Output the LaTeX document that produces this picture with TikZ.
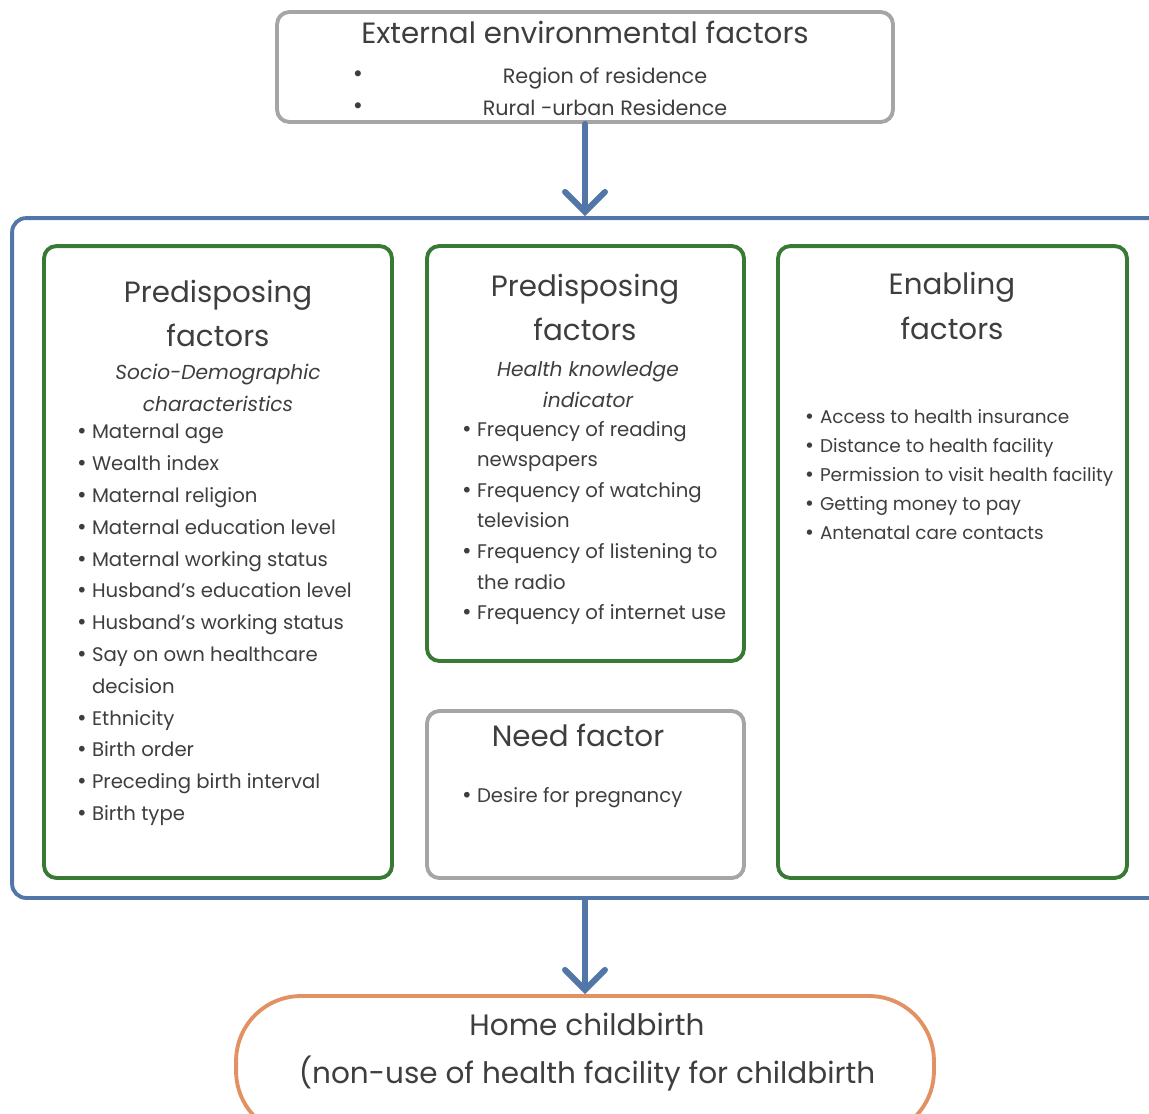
\documentclass[tikz,border=0pt]{standalone}
\usepackage{fontspec}
\setmainfont{Poppins}
\newfontfamily\symfont{DejaVu Sans}
\usetikzlibrary{positioning,arrows.meta,calc}
\usepackage{xcolor}
\definecolor{frameblue}{RGB}{82,118,168}
\definecolor{boxgreen}{RGB}{56,122,52}
\definecolor{boxgray}{RGB}{165,165,165}
\definecolor{outorange}{RGB}{226,146,98}
\definecolor{txtgray}{RGB}{62,62,62}
\newcommand{\bul}{\makebox[9pt][l]{{\symfont •}}}
\newcommand{\cont}{\hspace*{9pt}}

\begin{document}
\begin{tikzpicture}[x=0.02cm, y=-0.02cm,
    box/.style={draw, line width=2.2pt, rounded corners=7pt, inner sep=0pt},
    greenbox/.style={box, draw=boxgreen},
    graybox/.style={box, draw=boxgray},
    head/.style={text=txtgray, align=center, font=\fontsize{16.7}{25.5}\selectfont},
    sub/.style={text=txtgray, align=center, font=\fontsize{11.5}{18}\selectfont\itshape},
    items/.style={text=txtgray, align=left, anchor=west, font=\fontsize{11.2}{#1}\selectfont},
    flow/.style={-{Straight Barb[length=4mm, width=8mm, line cap=round]}, line width=3.4pt,
                 draw=frameblue, line cap=round}
]
    \useasboundingbox (0,0) rectangle (1149,1113);

    % Outer frame and the boxes inside it
    \node[box, draw=frameblue, minimum width=23.26cm, minimum height=13.6cm,
          rounded corners=8pt] (frame) at (593.5,558) {};
    \node[graybox, minimum width=12.32cm, minimum height=2.2cm] (ext) at (585,67) {};
    \node[greenbox, minimum width=6.96cm, minimum height=12.64cm] (socio) at (218,562) {};
    \node[greenbox, minimum width=6.34cm, minimum height=8.3cm] (know) at (585.5,453.5) {};
    \node[graybox, minimum width=6.34cm, minimum height=3.34cm] (need) at (585.5,794.5) {};
    \node[greenbox, minimum width=6.98cm, minimum height=12.64cm] (enab) at (952.5,562) {};
    \node[box, draw=outorange, minimum width=13.96cm, minimum height=2.8cm,
          rounded corners=1.3cm] (outc) at (585,1066) {};

    % External factors
    \node[head] (exthead) at (585,32) {External environmental factors};
    \node[text=txtgray, align=center, font=\fontsize{11.8}{18.1}\selectfont\symfont]
        (extdots) at (358,92) {•\\•};
    \node[text=txtgray, align=center, font=\fontsize{11.8}{18.1}\selectfont]
        (extlist) at (605,92) {Region of residence\\Rural -urban Residence};

    % Socio-demographic
    \node[head] (sociohead) at (218,313.5) {Predisposing\\factors};
    \node[sub] (sociosub) at (218,388) {Socio-Demographic\\characteristics};
    \node[items=18.1] (sociolist) at (70,625) {%
        \bul Maternal age\\
        \bul Wealth index\\
        \bul Maternal religion\\
        \bul Maternal education level\\
        \bul Maternal working status\\
        \bul Husband’s education level\\
        \bul Husband’s working status\\
        \bul Say on own healthcare\\
        \cont decision\\
        \bul Ethnicity\\
        \bul Birth order\\
        \bul Preceding birth interval\\
        \bul Birth type};

    % Health knowledge
    \node[head] (knowhead) at (585,307.5) {Predisposing\\factors};
    \node[sub] (knowsub) at (588,384.5) {Health knowledge\\indicator};
    \node[items=17.4] (knowlist) at (455,523) {%
        \bul Frequency of reading\\
        \cont newspapers\\
        \bul Frequency of watching\\
        \cont television\\
        \bul Frequency of listening to\\
        \cont the radio\\
        \bul Frequency of internet use};

    % Need
    \node[head] (needhead) at (578,735) {Need factor};
    \node[items=17.4] (needlist) at (455,798) {\bul Desire for pregnancy};

    % Enabling
    \node[head] (enabhead) at (952,306) {Enabling\\factors};
    \node[items=16.6, font=\fontsize{10.5}{16.6}\selectfont] (enablist) at (798,474.5) {%
        \bul Access to health insurance\\
        \bul Distance to health facility\\
        \bul Permission to visit health facility\\
        \bul Getting money to pay\\
        \bul Antenatal care contacts};

    % Outcome
    \node[head, font=\fontsize{16.8}{27}\selectfont] (outhead) at (587,1052)
        {Home childbirth\\(non-use of health facility for childbirth};

    \draw[flow] (ext.south) -- (ext.south |- frame.north);
    \draw[flow] (frame.south -| outc.north) -- (outc.north);
\end{tikzpicture}
\end{document}
